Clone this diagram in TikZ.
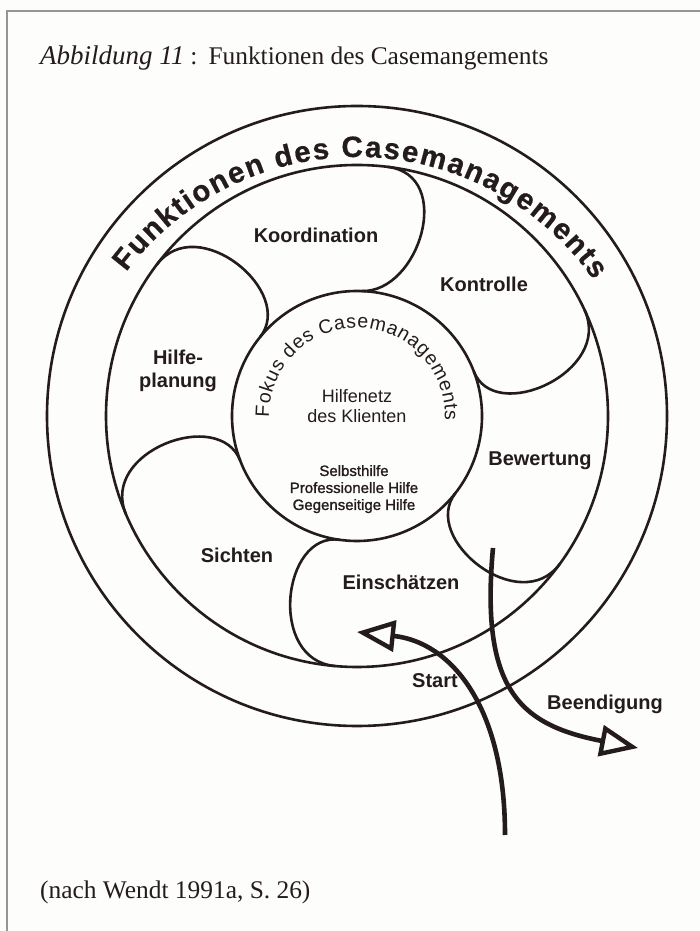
\documentclass[tikz,border=0pt]{standalone}
\usepackage{fontspec}
\setmainfont{Liberation Serif}
\setsansfont{Liberation Sans}
\newfontfamily\helpfont[FakeBold=1.4]{Liberation Sans}
\newfontfamily\ringfamily[BoldFeatures={FakeBold=0.6}]{Liberation Sans}
\usetikzlibrary{calc,arrows.meta,decorations.text}
\definecolor{ink}{RGB}{36,28,28}
\definecolor{paper}{RGB}{253,253,251}
\definecolor{framegray}{RGB}{150,150,150}
\newcommand\ringfont{\fontsize{29.5}{32}\selectfont\ringfamily\bfseries}
\newcommand\focusfont{\fontsize{19.5}{22}\selectfont\sffamily}

\begin{document}
\begin{tikzpicture}[x=1pt,y=1pt,
  ring/.style={draw=ink, line width=2.6pt},
  lobe/.style={draw=ink, line width=2.6pt},
  phase/.style={font=\fontsize{20}{22}\selectfont\sffamily\bfseries, text=ink, inner sep=0pt, anchor=base},
  net/.style={font=\fontsize{18}{20}\selectfont\sffamily, text=ink, inner sep=0pt, anchor=base},
  kind/.style={font=\fontsize{15}{17}\selectfont\helpfont, text=ink, inner sep=0pt, anchor=base},
  caption/.style={font=\fontsize{25.4}{28}\selectfont, text=ink, inner sep=0pt, anchor=base west},
  flow/.style={draw=ink, line width=4.6pt, -{Triangle[open, length=38pt, width=31pt, line width=4.4pt]}},
]
\useasboundingbox (0,0) rectangle (700,931);
\fill[paper] (0,0) rectangle (700,931);
% page frame
\draw[framegray, line width=1.2pt] (7,0) -- (7,920) -- (700,920);

% caption and source
\node[caption] (title) at (40,866) {{\fontsize{27}{28}\selectfont\itshape Abbildung 11}\hspace{6pt}:\hspace{11pt}Funktionen des Casemangements};
\node[caption] (source) at (40,32) {(nach Wendt 1991a, S. 26)};

% three concentric circles
\coordinate (C) at (357,515);
\draw[ring] (C) circle[radius=310pt];
\draw[ring] (C) circle[radius=251pt];
\draw[ring] (C) circle[radius=125pt];

% six lobes: each leaves the middle circle, turns clockwise and runs into the inner circle
\foreach \n/\m/\k in {la/83/88, lb/25/21, lc/-36/-38, ld/-95/-98, le/203/201, lf/143/141} {
  \pgfmathsetmacro\mo{\m-90}
  \pgfmathsetmacro\ko{\k-90}
  \coordinate (\n o) at ($(C)+(\m:251pt)$);
  \coordinate (\n i) at ($(C)+(\k:125pt)$);
  \draw[lobe] (\n o) to[out=\mo, in=\ko, out distance=68pt, in distance=58pt] (\n i);
}

% lettering along the rings (the outer one on a slightly flatter arc)
\coordinate (Cr) at (357,485);
\path[decorate, decoration={text along path, text align=fit to path, text color=ink,
      text={|\ringfont|Funktionen des Casemanagements}}]
  ($(Cr)+(143:289pt)$) arc[start angle=143, end angle=35, radius=289pt];
\path[decorate, decoration={text along path, text align=fit to path, text color=ink,
      text={|\focusfont|Fokus des Casemanagements}}]
  ($(C)+(181:88pt)$) arc[start angle=181, end angle=-3, radius=88pt];

% phase labels
\node[phase] (koord) at (316,688) {Koordination};
\node[phase] (kontr) at (484,639) {Kontrolle};
\node[phase] (hilfe1) at (178,566) {Hilfe-};
\node[phase] (hilfe2) at (178,543) {planung};
\node[phase] (sicht) at (237,368) {Sichten};
\node[phase] (einsch) at (401,341) {Einschätzen};
\node[phase] (bewert) at (540,465) {Bewertung};
\node[phase] (start) at (435,243) {Start};
\node[phase] (ende) at (605,221) {Beendigung};

% centre texts
\node[net] (netz1) at (357,528) {Hilfenetz};
\node[net] (netz2) at (357,508) {des Klienten};
\node[kind] (self) at (354,455) {Selbsthilfe};
\node[kind] (prof) at (354,438) {Professionelle Hilfe};
\node[kind] (mutual) at (354,421) {Gegenseitige Hilfe};

% entry and exit arrows
\coordinate (s0) at (505,96);
\coordinate (s1) at (357,299);
\draw[flow] (s0) .. controls (505,226) and (450,289) .. (s1);
\coordinate (e0) at (493,383);
\coordinate (e1) at (638,183);
\draw[flow] (e0) .. controls (480,241) and (520,206) .. (e1);
\end{tikzpicture}
\end{document}
